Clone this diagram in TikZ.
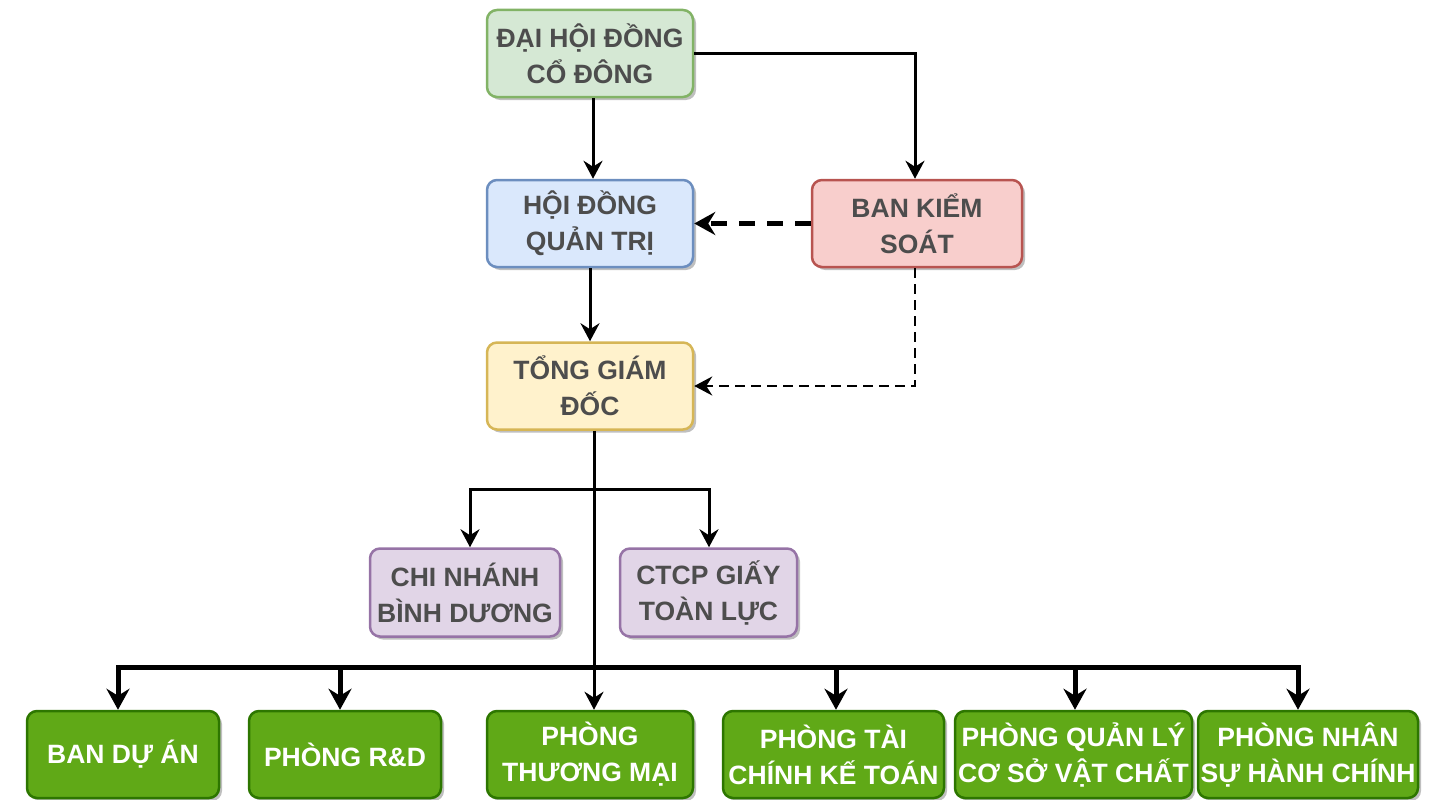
\documentclass[tikz,border=0pt]{standalone}
\usepackage{fontspec}
\setmainfont{Liberation Sans}
\usetikzlibrary{arrows.meta,shadows}
\definecolor{txt}{HTML}{4D4D4D}
\definecolor{gF}{HTML}{D5E8D4}\definecolor{gS}{HTML}{82B366}
\definecolor{bF}{HTML}{DAE8FC}\definecolor{bS}{HTML}{6C8EBF}
\definecolor{rF}{HTML}{F8CECC}\definecolor{rS}{HTML}{B85450}
\definecolor{yF}{HTML}{FFF2CC}\definecolor{yS}{HTML}{D6B656}
\definecolor{pF}{HTML}{E1D5E7}\definecolor{pS}{HTML}{9673A6}
\definecolor{dF}{HTML}{60A917}\definecolor{dS}{HTML}{2D7600}
\tikzset{
  box/.style={draw, rounded corners=10pt, line width=2.5pt, align=center, inner sep=0pt,
    drop shadow={shadow xshift=3pt, shadow yshift=-3pt, opacity=0.25, fill=black},
    text=txt, font=\bfseries\fontsize{26.5}{36}\selectfont},
  topbox/.style={box, minimum width=206pt, minimum height=87pt},
  dept/.style={box, fill=dF, draw=dS, text=white, minimum height=87pt},
  conn/.style={line width=3pt, -{Stealth[length=18pt,width=19pt,inset=6pt]}},
  busline/.style={line width=5pt},
  busarr/.style={line width=5pt, -{Stealth[length=21pt,width=23pt,inset=7pt]}},
}
\begin{document}
\begin{tikzpicture}[x=1pt,y=-1pt]
\useasboundingbox (0,0) rectangle (1446,800);
\node[topbox, fill=gF, draw=gS] (dhd) at (590,53.5) {ĐẠI HỘI ĐỒNG\\CỔ ĐÔNG};
\node[topbox, fill=bF, draw=bS] (hdqt) at (590,223.5) {HỘI ĐỒNG\\QUẢN TRỊ};
\node[box, fill=rF, draw=rS, minimum width=210pt, minimum height=87pt] (bks) at (917,223.5) {BAN KIỂM\\SOÁT};
\node[topbox, fill=yF, draw=yS] (tgd) at (590,386) {TỔNG GIÁM\\ĐỐC};
\node[box, fill=pF, draw=pS, minimum width=190pt, minimum height=88pt] (cn) at (465,592.5) {CHI NHÁNH\\BÌNH DƯƠNG};
\node[box, fill=pF, draw=pS, minimum width=177pt, minimum height=88pt] (ctcp) at (708.5,592.5) {CTCP GIẤY\\TOÀN LỰC};
\node[dept, minimum width=192pt] (ban) at (123,754.5) {BAN DỰ ÁN};
\node[dept, minimum width=192pt] (rd) at (345,754.5) {PHÒNG R\&D};
\node[dept, minimum width=206pt] (tm) at (590,754.5) {PHÒNG\\THƯƠNG MẠI};
\node[dept, minimum width=221pt] (tc) at (833.5,754.5) {PHÒNG TÀI\\CHÍNH KẾ TOÁN};
\node[dept, minimum width=237pt] (ql) at (1073.5,754.5) {PHÒNG QUẢN LÝ\\CƠ SỞ VẬT CHẤT};
\node[dept, minimum width=220pt] (ns) at (1308,754.5) {PHÒNG NHÂN\\SỰ HÀNH CHÍNH};
% connectors
\draw[conn] ([xshift=3pt]dhd.south) -- ([xshift=3pt]hdqt.north);
\draw[conn] (dhd.east) -| ([xshift=-2pt]bks.north);
\draw[line width=5pt, dash pattern=on 16pt off 12pt, -{Stealth[length=21pt,width=23pt,inset=7pt]}] (bks.west) -- (hdqt.east);
\draw[conn] (hdqt) -- (tgd);
\draw[line width=2.4pt, dash pattern=on 10pt off 6pt, -{Stealth[length=18pt,width=19pt,inset=6pt]}] ([xshift=-2pt]bks.south) |- (tgd.east);
\coordinate (jl) at (470,489);
\coordinate (jr) at (709,489);
\draw[conn] ([xshift=4pt]tgd.south) -- ([xshift=4pt]tm.north);
\draw[line width=3pt, {Stealth[length=18pt,width=19pt,inset=6pt]}-{Stealth[length=18pt,width=19pt,inset=6pt]}]
  (jl |- cn.north) -- (jl) -- (jr) -- (jr |- ctcp.north);
\coordinate (b1) at (118,667);
\coordinate (b2) at (340,667);
\coordinate (b3) at (836,667);
\coordinate (b4) at (1075,667);
\coordinate (b5) at (1298,667);
\draw[busline, line cap=rect] (b1) -- (b5);
\draw[busarr] (b1) -- (b1 |- ban.north);
\draw[busarr] (b2) -- (b2 |- rd.north);
\draw[busarr] (b3) -- (b3 |- tc.north);
\draw[busarr] (b4) -- (b4 |- ql.north);
\draw[busarr] (b5) -- (b5 |- ns.north);
\end{tikzpicture}
\end{document}
